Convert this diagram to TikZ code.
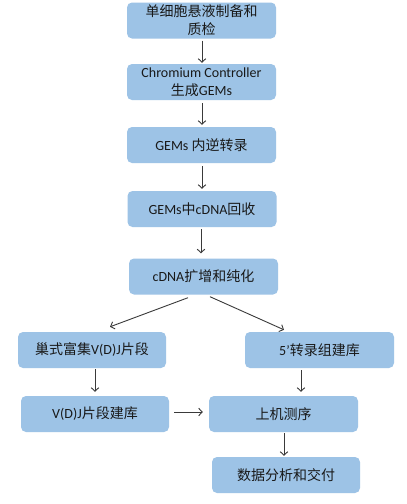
\documentclass[tikz,border=0pt]{standalone}
\usepackage{fontspec}
\setmainfont{Carlito}
\newfontfamily\cjk{Noto Sans CJK SC}
\newcommand\zh[1]{{\cjk #1}}
\usetikzlibrary{arrows.meta,calc}
\definecolor{boxfill}{HTML}{9DC3E6}
\definecolor{arrowc}{HTML}{3A3A3A}
\begin{document}
\begin{tikzpicture}[x=1pt,y=-1pt,
  box/.style={fill=boxfill,draw=none,rounded corners=5pt,minimum width=149pt,minimum height=36pt,
    inner sep=0pt,align=center,font=\fontsize{14pt}{18pt}\selectfont,text=black!90},
  arr/.style={draw=arrowc,line width=0.9pt,-{Straight Barb[length=3.5pt,width=7.5pt]}}]
\useasboundingbox (0,0) rectangle (407,504);
\fill[white] (0,0) rectangle (407,504);
\node[box] (b1) at (201.5,20.5) {\zh{单细胞悬液制备和}\\\zh{质检}};
\node[box] (b2) at (201.5,82) {Chromium Controller\\\zh{生成}GEMs};
\node[box] (b3) at (201.5,145) {GEMs \zh{内逆转录}};
\node[box] (b4) at (202,209) {GEMs\zh{中}cDNA\zh{回收}};
\node[box] (b5) at (203.5,276.5) {cDNA\zh{扩增和纯化}};
\node[box,minimum width=148pt] (b6) at (92,350) {\zh{巢式富集}V(D)J\zh{片段}};
\node[box] (b7) at (319.5,350) {5'\zh{转录组建库}};
\node[box,minimum width=148pt] (b8) at (95,414) {V(D)J\zh{片段建库}};
\node[box] (b9) at (283.5,414) {\zh{上机测序}};
\node[box,minimum width=148pt] (b10) at (286,475) {\zh{数据分析和交付}};
\draw[arr] ($(b1.south)+(0.5,2)$) -- ($(b2.north)+(0.5,-1)$);
\draw[arr] ($(b2.south)+(0.5,3)$) -- ($(b3.north)+(0.5,-2)$);
\draw[arr] ($(b3.south)+(0.5,3)$) -- ($(b4.north)+(0,-2)$);
\draw[arr] ($(b4.south)+(-1,2)$) -- ($(b5.north)+(-2.5,-5)$);
\draw[arr] ($(b5.south)+(-15.5,3)$) -- ($(b6.north)+(18,-5)$);
\draw[arr] ($(b5.south)+(6.5,2)$) -- ($(b7.north)+(-35.5,-2)$);
\draw[arr] ($(b6.south)+(3,1)$) -- ($(b8.north)+(0,-4)$);
\draw[arr] ($(b7.south)+(-18.5,2)$) -- ($(b9.north)+(17.5,-4)$);
\draw[arr] ($(b8.east)+(5,-2)$) -- ($(b9.west)+(-6,-2)$);
\draw[arr] ($(b9.south)+(0.5,1)$) -- ($(b10.north)+(-2,-1)$);
\end{tikzpicture}
\end{document}
